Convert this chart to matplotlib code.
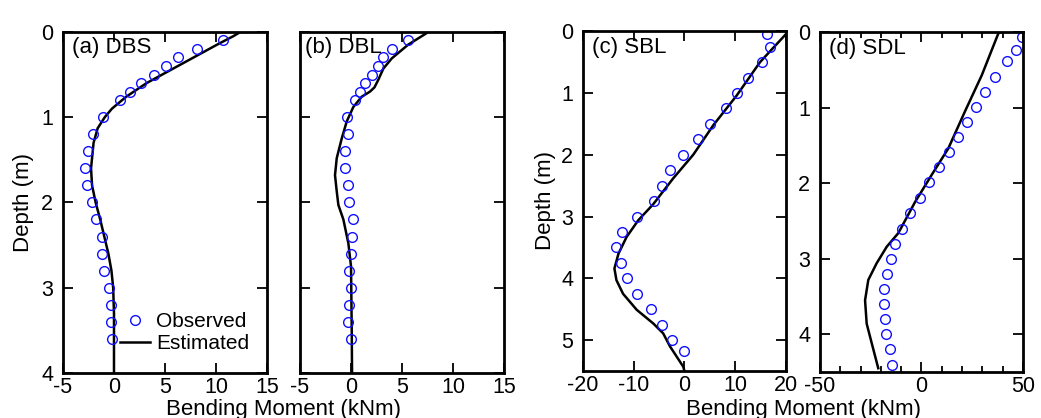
import matplotlib.pyplot as plt
from matplotlib.ticker import MultipleLocator

plt.rcParams['font.family'] = ['Liberation Sans', 'DejaVu Sans']
plt.rcParams['axes.unicode_minus'] = False

# (a) DBS
a_obs_depth = [0.1, 0.2, 0.3, 0.4, 0.5, 0.6, 0.7, 0.8, 1.0, 1.2, 1.4, 1.6, 1.8, 2.0, 2.2, 2.4, 2.6, 2.8, 3.0, 3.2, 3.4, 3.6]
a_obs_moment = [10.65, 8.1, 6.3, 5.1, 3.9, 2.65, 1.57, 0.59, -1.1, -2.1, -2.5, -2.8, -2.6, -2.2, -1.8, -1.15, -1.2, -0.98, -0.46, -0.33, -0.3, -0.16]
a_est_depth = [0.0, 0.05, 0.15, 0.3, 0.45, 0.6, 0.76, 0.9, 1.0, 1.13, 1.3, 1.6, 1.8, 2.0, 2.2, 2.4, 2.6, 2.8, 3.0, 3.3, 4.0]
a_est_moment = [12.4, 11.7, 10.1, 7.8, 5.5, 3.2, 1.2, -0.2, -0.9, -1.6, -2.0, -2.25, -2.15, -1.8, -1.35, -0.95, -0.55, -0.25, -0.08, 0.0, 0.0]

# (b) DBL
b_obs_depth = [0.1, 0.2, 0.3, 0.4, 0.5, 0.6, 0.7, 0.8, 1.0, 1.2, 1.4, 1.6, 1.8, 2.0, 2.2, 2.4, 2.6, 2.8, 3.0, 3.2, 3.4, 3.6]
b_obs_moment = [5.6, 4.05, 3.17, 2.68, 2.03, 1.37, 0.88, 0.39, -0.36, -0.26, -0.59, -0.59, -0.33, -0.16, 0.16, 0.13, -0.03, -0.16, 0.0, -0.16, -0.26, -0.03]
b_est_depth = [0.0, 0.15, 0.31, 0.43, 0.56, 0.65, 0.7, 0.76, 0.88, 1.05, 1.25, 1.48, 1.68, 1.87, 2.03, 2.2, 2.48, 2.75, 3.5, 4.0]
b_est_moment = [7.6, 5.6, 4.0, 3.17, 2.68, 2.3, 1.86, 1.05, 0.23, -0.42, -0.91, -1.4, -1.57, -1.4, -1.24, -0.75, -0.26, 0.0, 0.07, 0.1]

# (c) SBL
c_obs_depth = [0.05, 0.25, 0.5, 0.75, 1.0, 1.25, 1.5, 1.75, 2.0, 2.25, 2.5, 2.75, 3.0, 3.25, 3.5, 3.75, 4.0, 4.25, 4.5, 4.75, 5.0, 5.17]
c_obs_moment = [16.2, 16.85, 15.3, 12.6, 10.3, 8.1, 5.1, 2.6, -0.3, -2.8, -4.4, -6.1, -9.3, -12.3, -13.4, -12.6, -11.3, -9.3, -6.6, -4.4, -2.4, -0.1]
c_est_depth = [0.0, 0.065, 0.5, 1.04, 1.52, 2.0, 2.38, 2.8, 3.06, 3.33, 3.6, 3.84, 4.03, 4.25, 4.51, 4.73, 4.89, 5.1, 5.43, 5.5]
c_est_moment = [20.5, 19.8, 14.9, 10.3, 5.7, 1.73, -2.2, -6.15, -9.1, -11.4, -13.0, -13.8, -13.4, -12.1, -9.4, -6.15, -4.2, -2.86, -0.24, 0.0]

# (d) SDL
d_obs_depth = [0.07, 0.24, 0.38, 0.59, 0.79, 0.99, 1.19, 1.39, 1.59, 1.78, 1.99, 2.2, 2.4, 2.6, 2.8, 3.0, 3.2, 3.4, 3.6, 3.8, 4.0, 4.2, 4.41]
d_obs_moment = [49.6, 46.5, 42.0, 36.2, 31.3, 26.8, 22.6, 17.8, 13.5, 8.8, 3.9, -0.7, -5.7, -9.8, -12.9, -15.0, -17.0, -18.3, -18.3, -18.1, -17.6, -15.5, -14.7]
d_est_depth = [0.0, 0.02, 0.57, 1.05, 1.54, 1.89, 2.25, 2.66, 2.84, 3.06, 3.28, 3.55, 3.86, 4.12, 4.45]
d_est_moment = [38.7, 37.8, 29.7, 21.4, 13.2, 5.0, -3.2, -11.4, -17.1, -22.1, -26.2, -27.8, -27.0, -24.5, -21.3]

panels = [
    ('(a) DBS', a_obs_moment, a_obs_depth, a_est_moment, a_est_depth, (-5, 15), 5, 4, [0.0605, 0.1077, 0.196, 0.816]),
    ('(b) DBL', b_obs_moment, b_obs_depth, b_est_moment, b_est_depth, (-5, 15), 5, 4, [0.2882, 0.1077, 0.196, 0.816]),
    ('(c) SBL', c_obs_moment, c_obs_depth, c_est_moment, c_est_depth, (-20, 20), 10, 5.5, [0.5600, 0.1124, 0.195, 0.813]),
    ('(d) SDL', d_obs_moment, d_obs_depth, d_est_moment, d_est_depth, (-50, 50), 50, 4.5, [0.7877, 0.1100, 0.195, 0.813]),
]

fig = plt.figure(figsize=(10.41, 4.18), dpi=100)

axes = []
for i, (name, xo, yo, xe, ye, xlim, xstep, ymax, pos) in enumerate(panels):
    ax = fig.add_axes(pos)
    ax.plot(xe, ye, color='black', lw=1.8, label='Estimated')
    ax.plot(xo, yo, 'o', mfc='none', mec='#1010ff', mew=1.0, ms=7, label='Observed')
    ax.set_xlim(*xlim)
    ax.set_ylim(ymax, 0)
    ax.xaxis.set_major_locator(MultipleLocator(xstep))
    ax.yaxis.set_major_locator(MultipleLocator(1))
    if i == 3:
        ax.xaxis.set_minor_locator(MultipleLocator(10))
    ax.tick_params(which='both', direction='in', top=True, right=True, labelsize=15.5, width=1.3, pad=3)
    ax.tick_params(which='major', length=7)
    ax.tick_params(which='minor', length=4)
    ax.tick_params(axis='y', pad=7)
    if i == 1:
        ax.tick_params(axis='y', labelleft=False)
    for s in ax.spines.values():
        s.set_linewidth(2.0)
    ax.text(0.025 if i == 1 else 0.045, 0.953, name, transform=ax.transAxes, fontsize=16, va='center', ha='left')
    axes.append(ax)

# legend in panel (a)
h, l = axes[0].get_legend_handles_labels()
axes[0].legend(h[::-1], l[::-1], loc='lower left', bbox_to_anchor=(0.21, 0.015), frameon=False,
               fontsize=15, handlelength=1.4, handletextpad=0.3, labelspacing=0.15, borderpad=0.2)

fig.text(23 / 1041, 1 - 202 / 418, 'Depth (m)', rotation=90, fontsize=16, ha='center', va='center')
fig.text(546 / 1041, 1 - 201 / 418, 'Depth (m)', rotation=90, fontsize=16, ha='center', va='center')
fig.text(283 / 1041, 9 / 418, 'Bending Moment (kNm)', fontsize=16, ha='center', va='center')
fig.text(803 / 1041, 9 / 418, 'Bending Moment (kNm)', fontsize=16, ha='center', va='center')

plt.savefig('out.png', dpi=100)
